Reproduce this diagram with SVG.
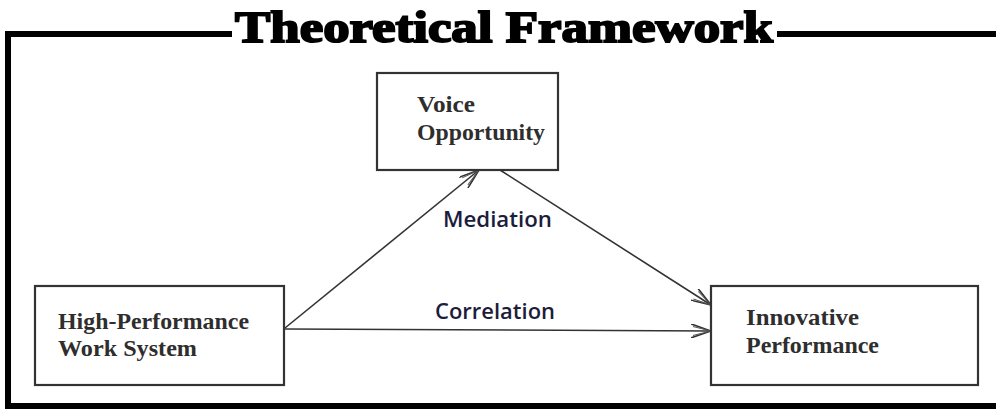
<svg xmlns="http://www.w3.org/2000/svg" width="996" height="411" viewBox="0 0 996 411">
  <defs>
    <marker id="arr" viewBox="0 0 20 14" refX="20" refY="7" markerWidth="20" markerHeight="14" markerUnits="userSpaceOnUse" orient="auto">
      <polyline points="0,0 20,7 0,14" fill="none" stroke="#333" stroke-width="1.6"/>
      <polyline points="2,2.5 20,7 2,11.5" fill="none" stroke="#555" stroke-width="1"/>
    </marker>
    <style>
      .box { fill: #fff; stroke: #333; stroke-width: 2.2; }
      .lbl { font-family: "Liberation Serif", "Times New Roman", serif; font-weight: bold; font-size: 23px; fill: #2e2e2e; }
      .edge { font-family: "Open Sans", "Liberation Sans", sans-serif; font-weight: 600; font-size: 21px; fill: #1c1c3c; }
      .conn { fill: none; stroke: #333; stroke-width: 1.6; }
      .frame { fill: none; stroke: #000; stroke-width: 6; }
    </style>
  </defs>
  <rect width="996" height="411" fill="#fff"/>
  <g id="frame">
    <polyline class="frame" points="232,34 8,34 8,406 996,406"/>
    <line class="frame" x1="777" y1="34" x2="996" y2="34"/>
    <text x="235" y="42" font-family="Liberation Serif, serif" font-weight="bold" font-size="45" fill="#000" stroke="#000" stroke-width="2" textLength="538" lengthAdjust="spacingAndGlyphs">Theoretical Framework</text>
  </g>
  <g id="connectors">
    <line class="conn" x1="285" y1="328" x2="479" y2="170" marker-end="url(#arr)"/>
    <line class="conn" x1="500" y1="170" x2="711" y2="305" marker-end="url(#arr)"/>
    <line class="conn" x1="285" y1="329" x2="711" y2="331" marker-end="url(#arr)"/>
    <text class="edge" x="443" y="227" textLength="109" lengthAdjust="spacingAndGlyphs">Mediation</text>
    <text class="edge" x="435" y="319" textLength="120" lengthAdjust="spacingAndGlyphs">Correlation</text>
  </g>
  <g id="voice">
    <rect class="box" x="377" y="73" width="181" height="97"/>
    <text class="lbl" x="417" y="112" textLength="58" lengthAdjust="spacingAndGlyphs">Voice</text>
    <text class="lbl" x="417" y="140" textLength="128" lengthAdjust="spacingAndGlyphs">Opportunity</text>
  </g>
  <g id="hpws">
    <rect class="box" x="35" y="286" width="249" height="99"/>
    <text class="lbl" x="58" y="329" textLength="191" lengthAdjust="spacingAndGlyphs">High-Performance</text>
    <text class="lbl" x="58" y="356" textLength="139" lengthAdjust="spacingAndGlyphs">Work System</text>
  </g>
  <g id="innovative">
    <rect class="box" x="711" y="286" width="267" height="99"/>
    <text class="lbl" x="746" y="325" textLength="113" lengthAdjust="spacingAndGlyphs">Innovative</text>
    <text class="lbl" x="746" y="353" textLength="133" lengthAdjust="spacingAndGlyphs">Performance</text>
  </g>
</svg>
